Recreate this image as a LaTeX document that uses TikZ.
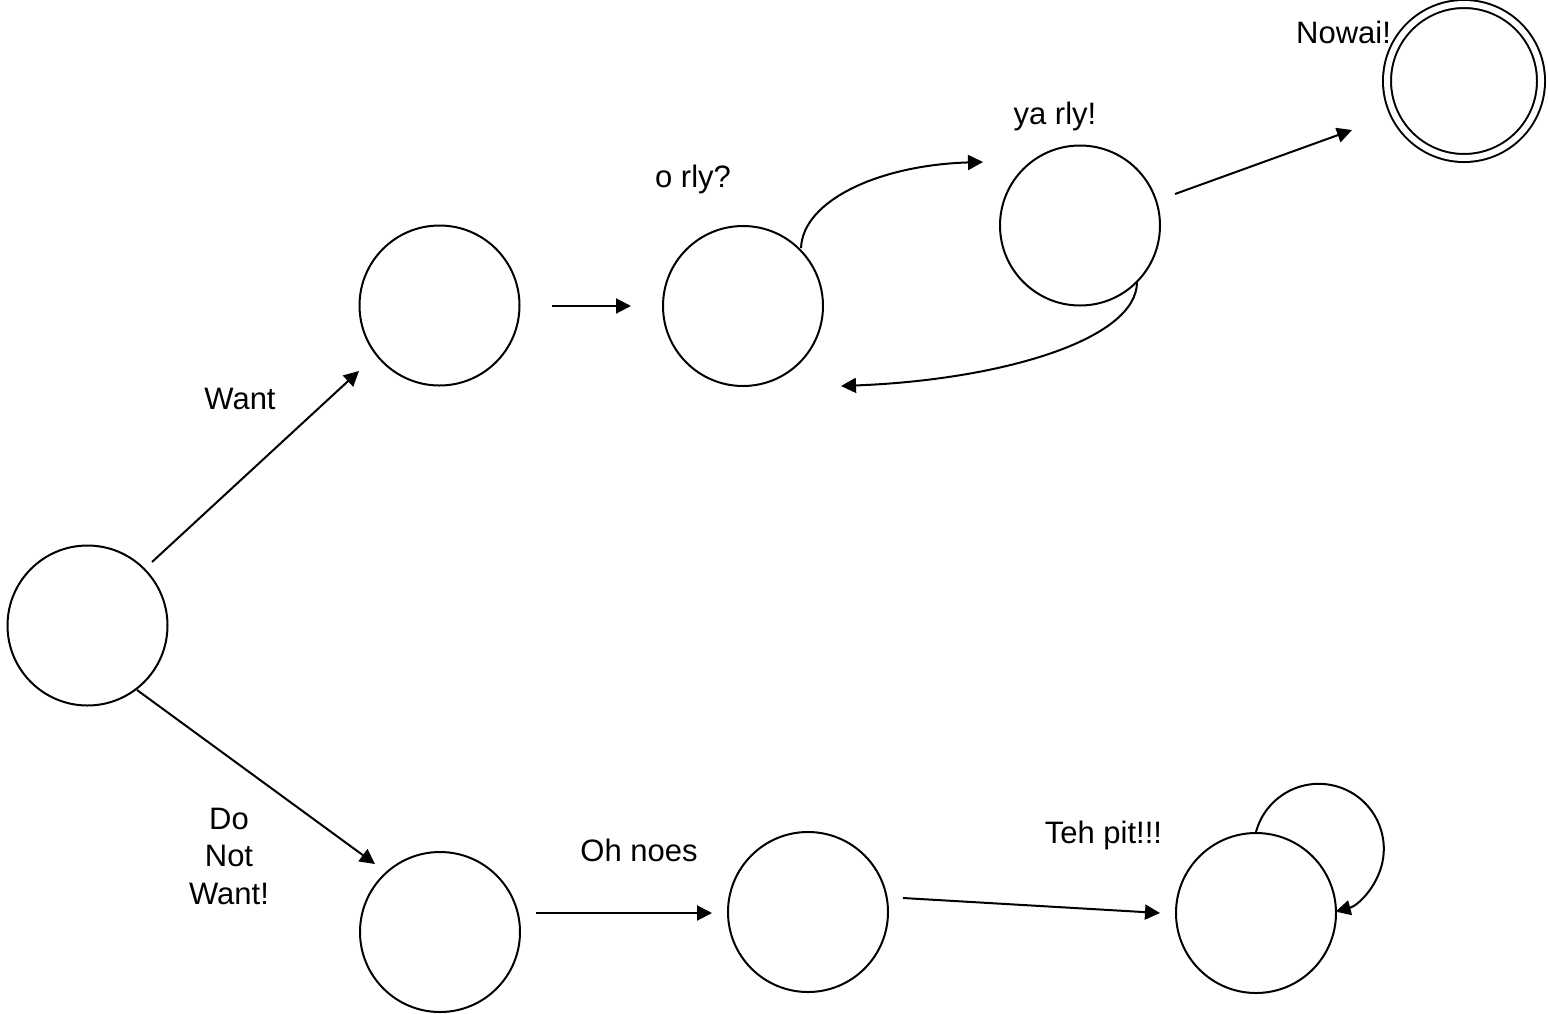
\documentclass[tikz,border=0pt]{standalone}
\usepackage{fontspec}
\setmainfont{Liberation Sans}
\usetikzlibrary{arrows.meta}
\begin{document}
\begin{tikzpicture}[x=0.5pt,y=0.5pt,
  state/.style={circle,draw,line width=1pt,minimum size=80pt,inner sep=0pt},
  accept/.style={circle,draw,double,line width=1pt,double distance=3pt,minimum size=77pt,inner sep=0pt},
  arr/.style={line width=1pt,-{Triangle[length=7.5pt,width=7.5pt]}},
  lbl/.style={font=\fontsize{15.5}{18.75}\selectfont,inner sep=0pt,anchor=base,align=center}]
\useasboundingbox (0,0) rectangle (1548,-1013);
\node[state] (S) at (87.5,-625.5) {};
\node[state] (A) at (439.5,-305.5) {};
\node[state] (B) at (743,-306) {};
\node[state] (C) at (1080,-225.5) {};
\node[accept] (D) at (1464,-81) {};
\node[state] (E) at (440,-932) {};
\node[state] (F) at (808,-912) {};
\node[state] (G) at (1256,-913) {};
\coordinate (s1) at (152,-562); \coordinate (a1) at (359,-371);
\coordinate (s2) at (137,-690); \coordinate (e1) at (375,-864);
\coordinate (a2) at (552,-306); \coordinate (b1) at (631,-306);
\coordinate (b2) at (801,-248); \coordinate (c1) at (983,-162);
\coordinate (c2) at (1137,-282); \coordinate (b3) at (841,-386);
\coordinate (c3) at (1175,-194); \coordinate (d1) at (1352,-130);
\coordinate (e2) at (536,-913); \coordinate (f1) at (712,-913);
\coordinate (f2) at (903,-898); \coordinate (g1) at (1160,-913);
\draw[arr] (s1) -- (a1);
\draw[arr] (s2) -- (e1);
\draw[arr] (a2) -- (b1);
\draw[arr] (b2) .. controls (803,-200) and (880,-165) .. (c1);
\draw[arr] (c2) .. controls (1137,-340) and (1000,-380) .. (b3);
\draw[arr] (c3) -- (d1);
\draw[arr] (e2) -- (f1);
\draw[arr] (f2) -- (g1);
\draw[arr] (G.north) arc[start angle=165,end angle=-75,radius=32.5pt];
\node[lbl] (lw) at (240,-409) {Want};
\node[lbl] (ldn) at (229,-904) {Do\\Not\\Want!};
\node[lbl] (lo) at (693,-187) {o rly?};
\node[lbl] (ly) at (1055,-124) {ya rly!};
\node[lbl] (ln) at (1343.5,-43) {Nowai!};
\node[lbl] (lon) at (639,-861) {Oh noes};
\node[lbl] (lt) at (1103.5,-843) {Teh pit!!!};
\end{tikzpicture}
\end{document}
